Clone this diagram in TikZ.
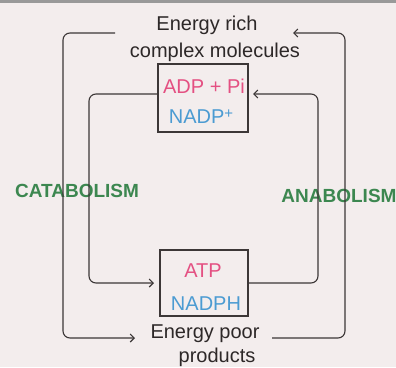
\documentclass[tikz,border=0pt]{standalone}
\usepackage{fontspec}
\setmainfont{Liberation Sans}
\usetikzlibrary{arrows.meta}
\definecolor{bg}{RGB}{243,237,237}
\definecolor{linec}{RGB}{60,55,55}
\definecolor{txtc}{RGB}{45,40,40}
\definecolor{pinkc}{RGB}{228,80,130}
\definecolor{bluec}{RGB}{75,155,210}
\definecolor{greenc}{RGB}{60,135,80}
\begin{document}
\begin{tikzpicture}[x=1pt,y=-1pt,
  conn/.style={draw=linec, line width=1.1pt, rounded corners=7pt},
  tip/.style={-{Straight Barb[length=4pt,width=8pt,line width=1.1pt]}},
  txt/.style={font=\fontsize{20}{24}\selectfont, text=txtc, inner sep=0pt, anchor=base},
  bold/.style={font=\fontsize{19}{23}\selectfont\bfseries, text=greenc, inner sep=0pt, anchor=base},
  boxn/.style={draw=linec, line width=1.1pt, minimum width=#1, inner sep=0pt}]
\fill[bg] (0,0) rectangle (396,367);
\useasboundingbox (0,0) rectangle (396,367);
\fill[gray!80] (0,0) rectangle (396,3);

% texts
\node[txt] (rich1) at (207,30) {Energy rich};
\node[txt] (rich2) at (215,57) {complex molecules};
\node[txt] (poor1) at (205,338) {Energy poor};
\node[txt] (poor2) at (217,362) {products};

% boxes
\node[boxn=90pt, minimum height=68pt] (top) at (203,98) {};
\node[boxn=88pt, minimum height=66pt] (bot) at (204,283) {};
\node[txt, text=pinkc] (adp) at (204,93) {ADP + Pi};
\node[txt, text=bluec] (nadp) at (201,123) {NADP\raisebox{5pt}{\fontsize{15}{15}\selectfont+}};
\node[txt, text=pinkc] (atp) at (203,277) {ATP};
\node[txt, text=bluec] (nadph) at (206,310) {NADPH};

\node[bold] (cat) at (77,197) {CATABOLISM};
\node[bold] (ana) at (339,202) {ANABOLISM};

% connector end points
\coordinate (o1) at (115,33);
\coordinate (o2) at (135,338);
\coordinate (o3) at (272,338);
\coordinate (o4) at (293,33);
\coordinate (i1) at (top.west |- 0,94);
\coordinate (i2) at (154,283);
\coordinate (i3) at (bot.east |- 0,283);
\coordinate (i4) at (253,94);

% outer loops
\draw[conn, tip] (o1) -- (63,33) -- (63,338) -- (o2);
\draw[conn, tip] (o3) -- (345,338) -- (345,33) -- (o4);
% inner loops
\draw[conn, tip] (i1) -- (89,94) -- (89,283) -- (i2);
\draw[conn, tip] (i3) -- (318,283) -- (318,94) -- (i4);
\end{tikzpicture}
\end{document}
